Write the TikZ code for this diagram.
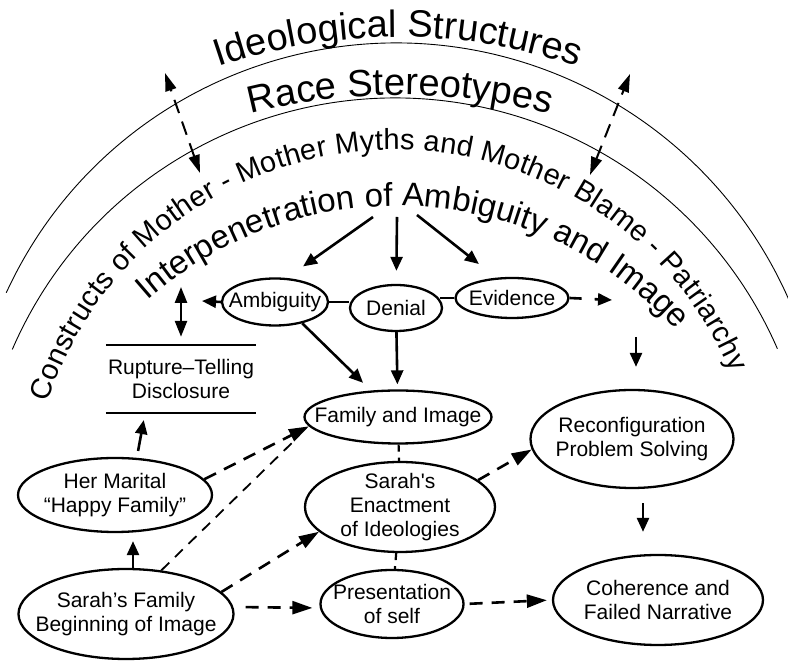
\documentclass[tikz,border=0pt]{standalone}
\usepackage{fontspec}
\setmainfont{Liberation Sans}[Ligatures=TeXOff]
\usetikzlibrary{shapes.geometric, arrows.meta, decorations.text}
\newcommand\nodefont{\fontsize{21}{24}\selectfont}
\newcommand\ringfont{\fontsize{38}{40}\selectfont}
\newcommand\mothfont{\fontsize{29}{31}\selectfont}
\newcommand\interfont{\fontsize{33}{35}\selectfont}

\begin{document}
\begin{tikzpicture}[x=1pt,y=1pt]
\tikzstyle{ell}=[ellipse, draw, line width=2.3pt, inner xsep=-20pt, inner ysep=-5pt,
                 align=center, font=\nodefont]
\tikzstyle{rupt}=[minimum width=150pt, minimum height=68pt, inner sep=0pt,
                  align=center, font=\nodefont]
\tikzstyle{arr}=[line width=2.6pt, -{Triangle[length=14pt,width=12pt]}]
\tikzstyle{darr}=[line width=2.6pt, dash pattern=on 13pt off 9pt,
                  -{Triangle[length=20pt,width=13pt]}]
\tikzstyle{oarr}=[line width=2pt, dash pattern=on 14pt off 9pt,
                  {Triangle[length=18pt,width=11pt]}-{Triangle[length=18pt,width=11pt]}]
\tikzstyle{rim}=[line width=0.9pt]
\useasboundingbox (0,0) rectangle (788,661);

% the two rings and their texts
\draw[rim] (396,189) ++(155.3:429pt) arc[start angle=155.3, end angle=23.3, radius=429pt];
\draw[rim] (395,146) ++(156.6:417pt) arc[start angle=156.6, end angle=23.5, radius=417pt];
\path[decorate, decoration={text along path, text align=center,
      text={|\ringfont|Ideological Structures}}]
  (398,69) ++(115:555pt) arc[start angle=115, end angle=65, radius=555pt];
\path[decorate, decoration={text along path, text align=center,
      text={|\ringfont|Race Stereotypes}}]
  (400,-39) ++(110:605pt) arc[start angle=110, end angle=70, radius=605pt];
\path[decorate, decoration={text along path, text align=fit to path,
      text={|\mothfont|Constructs of Mother - Mother Myths and Mother Blame - Patriarchy}}]
  (395,146) ++(162:365pt) arc[start angle=162, end angle=23, radius=365pt];
\path[decorate, decoration={text along path, text align=center,
      text={|\interfont|Interpenetration of Ambiguity and Image}}]
  (397,79) ++(137.5:376pt) arc[start angle=137.5, end angle=36, radius=376pt];

% nodes
\node[ell, minimum width=106pt, minimum height=47pt] (Am) at (275,359) {Ambiguity};
\node[ell, minimum width=92pt, minimum height=46pt] (De) at (396,353) {Denial};
\node[ell, minimum width=113pt, minimum height=40pt] (Ev) at (512,363) {Evidence};
\node[ell, minimum width=187pt, minimum height=53pt] (FI) at (398,244) {Family and Image};
\node[ell, minimum width=190pt, minimum height=90pt] (SE) at (400,154) {Sarah's\\Enactment\\of Ideologies};
\node[ell, minimum width=143pt, minimum height=68pt] (PS) at (392,57) {Presentation\\of self};
\node[ell, minimum width=203pt, minimum height=98pt] (RP) at (632,222) {Reconfiguration\\Problem Solving};
\node[ell, minimum width=210pt, minimum height=90pt] (CF) at (658,61) {Coherence and\\Failed Narrative};
\node[ell, minimum width=194pt, minimum height=74pt] (HM) at (115,166) {Her Marital\\“Happy Family”};
\node[ell, minimum width=215pt, minimum height=90pt] (SF) at (126,47) {Sarah’s Family\\Beginning of Image};
\node[rupt] (RT) at (181,282) {Rupture–Telling\\Disclosure};
\draw[line width=2.3pt] (RT.north west) -- (RT.north east) (RT.south west) -- (RT.south east);

\coordinate (i1) at (373,444);
\coordinate (i2) at (397,444);
\coordinate (i3) at (417,446);
\coordinate (aw) at (202,360);
\coordinate (rt) at (181,374);
\coordinate (ee) at (612,361);
\coordinate (im) at (636,324);
\coordinate (L1) at (165,588);
\coordinate (L2) at (200,488);
\coordinate (R1) at (630,587);
\coordinate (R2) at (590,486);

% solid
\draw[arr, shorten >=20pt] (i1) -- (Am.64);
\draw[arr, shorten >=13pt] (i2) -- (De);
\draw[arr, shorten >=22pt] (i3) -- (Ev.128);
\draw[arr] (Am.west) -- (aw);
\draw[line width=2.6pt] (Am.east) -- (Am.east -| De.west) (Ev.west) -- ([xshift=-3pt]Ev.west -| De.east);
\draw[line width=2.6pt, {Triangle[length=16pt,width=12pt]}-{Triangle[length=16pt,width=12pt]},
      shorten <=8pt] (RT.north) -- (rt);
\draw[arr, shorten >=11pt] (Am.-38) -- (FI);
\draw[arr, shorten >=5pt] (De) -- (FI);
\draw[arr, shorten >=22pt] (im) -- (im |- RP.north);
\draw[arr, shorten <=14pt, shorten >=22pt] ([xshift=11pt]RP.south) -- ([xshift=-15pt]CF.north);
\draw[arr, shorten >=8pt] ([xshift=7pt]SF.north) -- ([xshift=18pt]HM.south);
\draw[arr, shorten <=6pt, shorten >=7pt] ([xshift=22pt]HM.north) -- ([xshift=-36pt]RT.south);

% dashed
\draw[line width=2.6pt, dash pattern=on 12pt off 13pt, -{Triangle[length=14pt,width=12pt]}] (Ev.east) -- (ee);
\draw[line width=2.2pt, dash pattern=on 7pt off 6pt] (FI) -- (SE) (SE) -- (PS);
\foreach \a/\b in {SE.19/RP.186, HM.10/FI.186, SF.13/SE.197}{\draw[darr] (\a) -- (\b);}
\draw[line width=1.8pt, dash pattern=on 11pt off 8pt, shorten >=22pt] (SF.51) -- (FI.186);
\draw[darr, shorten <=11pt, shorten >=7pt] ([yshift=7pt]SF.east) -- ([yshift=-4pt]PS.west);
\draw[darr, shorten <=5pt, shorten >=5pt] (PS.east) -- (CF.west);
\draw[oarr] (L2) -- (L1);
\draw[oarr] (R2) -- (R1);

\end{tikzpicture}
\end{document}
